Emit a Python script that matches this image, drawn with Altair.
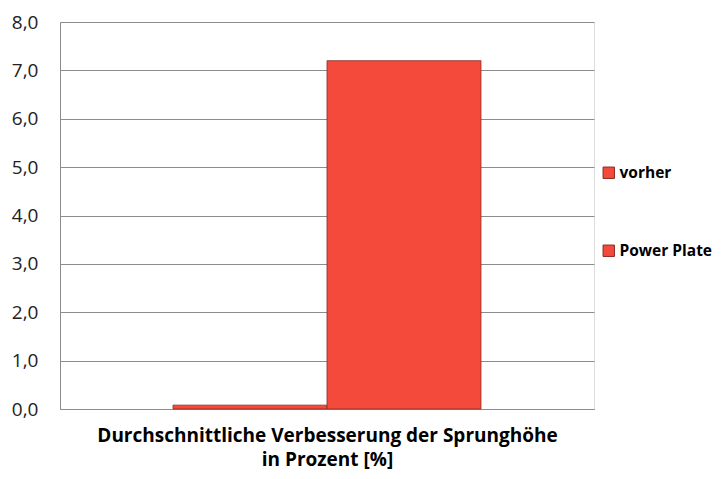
import altair as alt
import pandas as pd

category = ["Durchschnittliche Verbesserung der Sprunghöhe in Prozent [%]"]
series = ["vorher", "Power Plate"]
values = [0.08, 7.2]
y_ticks = [0, 1, 2, 3, 4, 5, 6, 7, 8]

df = pd.DataFrame({"category": category * len(series), "series": series, "value": values})

font = "Open Sans"

base = alt.Chart(df)

bars = base.mark_bar(stroke="#8a2a20", strokeWidth=1, strokeOpacity=0.8).encode(
    x=alt.X("series:N", sort=series,
            scale=alt.Scale(paddingInner=0, paddingOuter=0.734),
            axis=alt.Axis(labels=False, ticks=False, domain=True, domainColor="#8c8c8c",
                          title=["Durchschnittliche Verbesserung der Sprunghöhe", "in Prozent [%]"],
                          titleFont=font, titleFontSize=19, titleFontWeight="bold",
                          titleColor="#000000", titlePadding=17, titleLineHeight=24)),
    y=alt.Y("value:Q", scale=alt.Scale(domain=[0, 8], nice=False),
            axis=alt.Axis(values=y_ticks, labelExpr="replace(format(datum.value, '.1f'), '.', ',')",
                          title=None, grid=True, gridColor="#8c8c8c", ticks=False,
                          domainColor="#8c8c8c", labelFont=font, labelFontSize=19,
                          labelColor="#222222", labelPadding=22)),
    color=alt.Color("series:N", sort=series,
                    scale=alt.Scale(domain=series, range=["#f44a3c", "#f44a3c"]),
                    legend=alt.Legend(title=None, orient="none", legendX=541, legendY=143,
                                      symbolType="square", symbolSize=130, symbolStrokeColor="#8a2a20",
                                      symbolStrokeWidth=1, labelFont=font, labelFontSize=15.5,
                                      labelFontWeight="bold", labelColor="#000000",
                                      rowPadding=61, labelOffset=3, labelLimit=200)),
)

chart = bars.properties(
    width=534, height=387,
    autosize=alt.AutoSizeParams(type="none"),
    padding={"left": 52, "top": 14, "right": 123, "bottom": 62},
).configure_view(stroke="#e0e0e0", strokeWidth=1.5).configure(background="white")

chart.save("out.html", embed_options={"renderer": "svg", "actions": False})
